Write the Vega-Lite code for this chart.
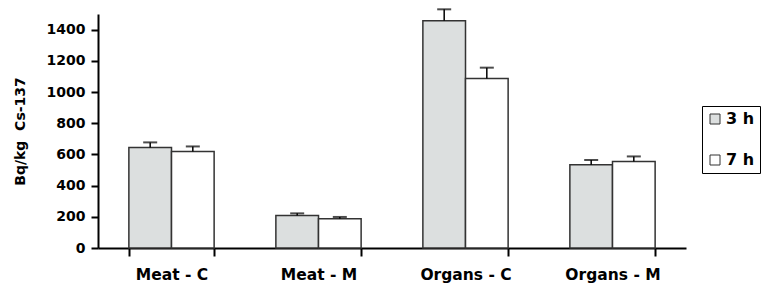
{
  "$schema": "https://vega.github.io/schema/vega-lite/v6.json",
  "autosize": {"type": "none"},
  "padding": {"left": 98, "top": 14, "right": 76, "bottom": 37},
  "width": 588,
  "height": 234,
  "background": "#ffffff",
  "config": {
    "view": {"stroke": null},
    "axis": {"domainColor": "#000000", "tickColor": "#000000", "domainWidth": 2, "tickWidth": 2, "grid": false, "labelColor": "#000000", "titleColor": "#000000", "labelFont": "DejaVu Sans", "titleFont": "DejaVu Sans", "labelFontWeight": "bold", "titleFontWeight": "bold"}
  },
  "data": {
    "values": [
      {"cat": "Meat - C", "time": "3 h", "value": 645, "upper": 677},
      {"cat": "Meat - C", "time": "7 h", "value": 619, "upper": 651},
      {"cat": "Meat - M", "time": "3 h", "value": 209, "upper": 222},
      {"cat": "Meat - M", "time": "7 h", "value": 188, "upper": 199},
      {"cat": "Organs - C", "time": "3 h", "value": 1457, "upper": 1530},
      {"cat": "Organs - C", "time": "7 h", "value": 1087, "upper": 1156},
      {"cat": "Organs - M", "time": "3 h", "value": 534, "upper": 564},
      {"cat": "Organs - M", "time": "7 h", "value": 555, "upper": 587}
    ]
  },
  "encoding": {
    "x": {
      "field": "cat", "type": "nominal", "sort": null,
      "scale": {"paddingInner": 0.42, "paddingOuter": 0.21},
      "axis": {"title": null, "labelAngle": 0, "labelFontSize": 15.5, "labelPadding": 11, "tickSize": 8, "tickBand": "extent"}
    },
    "xOffset": {"field": "time", "type": "nominal", "sort": null, "scale": {"paddingInner": 0, "paddingOuter": 0}}
  },
  "layer": [
    {
      "mark": {"type": "bar", "stroke": "#333333", "strokeWidth": 1.5},
      "encoding": {
        "y": {
          "field": "value", "type": "quantitative",
          "scale": {"domain": [0, 1500], "nice": false},
          "axis": {"values": [0, 200, 400, 600, 800, 1000, 1200, 1400], "tickCount": 8, "format": "d", "labelOverlap": false, "title": "Bq/kg\u00a0 Cs-137", "titleFontSize": 14, "labelFontSize": 14, "tickSize": 7, "labelPadding": 6, "titleX": -78, "titleY": 117, "titleBaseline": "middle", "titleAngle": -90}
        },
        "color": {
          "field": "time", "type": "nominal",
          "scale": {"domain": ["3 h", "7 h"], "range": ["#dcdfdf", "#ffffff"]},
          "legend": {"title": null, "orient": "none", "legendX": 604, "legendY": 92, "symbolType": "square", "symbolSize": 100, "symbolStrokeColor": "#333333", "symbolStrokeWidth": 1, "labelFont": "DejaVu Sans", "labelFontWeight": "bold", "labelFontSize": 16, "labelColor": "#000000", "labelOffset": 3, "strokeColor": "#000000", "fillColor": "#ffffff", "padding": 5, "rowPadding": 25}
        }
      }
    },
    {
      "mark": {"type": "rule", "color": "#000000", "strokeWidth": 1.5},
      "encoding": {
        "y": {"field": "value", "type": "quantitative",
          "axis": {"values": [0, 200, 400, 600, 800, 1000, 1200, 1400], "tickCount": 8, "format": "d", "labelOverlap": false, "title": "Bq/kg\u00a0 Cs-137", "titleFontSize": 14, "labelFontSize": 14, "tickSize": 7, "labelPadding": 6, "titleX": -78, "titleY": 117, "titleBaseline": "middle", "titleAngle": -90}},
        "y2": {"field": "upper"}
      }
    },
    {
      "mark": {"type": "tick", "color": "#000000", "size": 14, "thickness": 2, "orient": "horizontal"},
      "encoding": {
        "y": {"field": "upper", "type": "quantitative",
          "axis": {"values": [0, 200, 400, 600, 800, 1000, 1200, 1400], "tickCount": 8, "format": "d", "labelOverlap": false, "title": "Bq/kg\u00a0 Cs-137", "titleFontSize": 14, "labelFontSize": 14, "tickSize": 7, "labelPadding": 6, "titleX": -78, "titleY": 117, "titleBaseline": "middle", "titleAngle": -90}}
      }
    }
  ]
}
